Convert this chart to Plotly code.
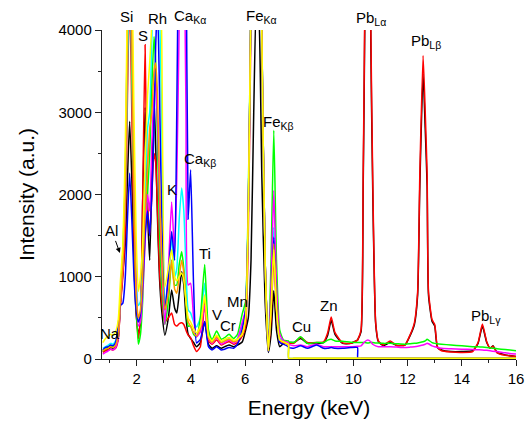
import plotly.graph_objects as go

# ---------------- data ----------------
# energy grid, keV (low region: all samples)
E_LOW = [0.75, 0.85, 0.95, 1.04, 1.12, 1.22, 1.32, 1.40, 1.49, 1.58,
         1.66, 1.74, 1.82, 1.90, 1.98, 2.06, 2.14, 2.22, 2.31, 2.40,
         2.48, 2.56, 2.64, 2.70, 2.77, 2.84, 2.92, 3.04, 3.17, 3.29,
         3.40, 3.48, 3.57, 3.66, 3.74, 3.82, 3.90, 3.99, 4.10, 4.21,
         4.35, 4.51, 4.65, 4.78, 4.95, 5.12, 5.25, 5.41, 5.58, 5.72,
         5.90, 6.02, 6.12, 6.22, 6.32, 6.42, 6.52, 6.62, 6.74, 6.86,
         6.96, 7.06, 7.16, 7.28, 7.42, 7.60]
# energy grid, keV (high region)
E_HIGH = [7.61, 7.80, 8.05, 8.30, 8.64, 8.90, 9.05, 9.18, 9.32, 9.60,
          9.90, 10.15, 10.16, 10.28, 10.36, 10.42, 10.53, 10.64, 10.71, 10.82,
          10.92, 11.10, 11.36, 11.60, 11.90, 12.10, 12.25, 12.37, 12.45, 12.57,
          12.65, 12.72, 12.77, 12.90, 13.00, 13.10, 13.25, 13.60, 14.00, 14.40,
          14.60, 14.76, 14.92, 15.05, 15.15, 15.30, 15.60, 16.00]

black_low = [90, 110, 120, 140, 130, 150, 260, 680, 1060, 1400,
             2200, 2890, 2200, 1200, 550, 320, 420, 1900, 3060, 1800,
             1200, 2200, 3170, 2600, 1700, 1000, 600, 290, 500, 840,
             620, 560, 800, 1060, 900, 500, 300, 250, 200, 150,
             200, 455, 180, 130, 160, 130, 150, 170, 150, 170,
             210, 350, 500, 1200, 3000, 4400, 4100, 2200, 700, 80,
             300, 830, 350, 150, 190, 190]
black_high = [200, 200, 250, 190, 190, 200, 290, 470, 300, 190,
              190, 230, 235, 330, 2100, 4100, 13000, 3900, 2100, 430,
              210, 165, 200, 165, 170, 290, 420, 780, 2100, 3475,
              2800, 2100, 780, 460, 400, 140, 110, 90, 90, 100,
              190, 400, 200, 130, 160, 80, 50, 30]

red_low = [80, 100, 110, 120, 110, 130, 240, 650, 1000, 1600,
           3200, 4500, 3000, 1500, 600, 250, 500, 1900, 3820, 1900,
           1500, 2000, 2500, 2400, 1800, 1100, 700, 450, 500, 560,
           420, 400, 430, 440, 420, 350, 290, 260, 160, 90,
           150, 680, 220, 180, 230, 170, 190, 210, 180, 200,
           280, 400, 1500, 4200, 9000, 12000, 9000, 3800, 1200, 100,
           500, 1250, 600, 220, 200, 200]
red_high = [195, 190, 265, 200, 200, 210, 320, 510, 320, 195,
            190, 230, 235, 350, 2240, 4300, 14000, 4100, 2240, 450,
            220, 170, 220, 165, 170, 300, 440, 820, 2240, 3690,
            3000, 2240, 820, 480, 420, 150, 100, 85, 80, 90,
            200, 425, 210, 130, 155, 75, 45, 30]

green_low = [100, 120, 140, 160, 150, 170, 300, 720, 1300, 2200,
             4200, 6000, 4000, 2000, 700, 180, 300, 700, 1500, 2000,
             2500, 3300, 3920, 3600, 2600, 1600, 900, 420, 700, 1200,
             900, 900, 1150, 1305, 1100, 700, 400, 400, 300, 270,
             500, 1150, 350, 230, 340, 240, 260, 300, 250, 300,
             555, 700, 2000, 4500, 9000, 12000, 9000, 3900, 1200, 110,
             1200, 2780, 1200, 350, 230, 220]
green_high = [210, 200, 270, 190, 200, 200, 230, 240, 220, 215,
              205, 200, 200, 200, 200, 200, 195, 200, 200, 195,
              195, 190, 190, 185, 180, 185, 190, 195, 200, 210,
              220, 240, 230, 200, 190, 185, 180, 170, 160, 150,
              148, 145, 140, 135, 130, 125, 115, 100]

blue_low = [110, 140, 150, 170, 160, 200, 420, 650, 680, 1000,
            1700, 2260, 1700, 1000, 600, 450, 550, 900, 1500, 1800,
            1500, 2000, 2800, 3800, 4300, 3300, 1800, 600, 1000, 1550,
            1200, 3000, 6000, 9000, 8000, 5500, 1700, 2300, 900, 195,
            240, 455, 150, 110, 150, 110, 120, 140, 130, 180,
            370, 600, 1800, 4500, 9000, 12000, 9000, 3900, 1200, 90,
            700, 1480, 650, 200, 180, 150]
blue_high = [140, 130, 160, 130, 170, 130, 130, 140, 130, 130,
             140, 140, 8, 8, 8, 8, 8, 8, 8, 8,
             8, 8, 8, 8, 8, 8, 8, 8, 8, 8,
             8, 8, 8, 8, 8, 8, 8, 8, 8, 8,
             8, 8, 8, 8, 8, 8, 8, 8]

cyan_low = [130, 150, 170, 190, 180, 220, 320, 750, 1230, 1900,
            3500, 5000, 3500, 2000, 1000, 650, 700, 1100, 2000, 2800,
            3000, 3900, 5000, 5500, 5000, 4300, 3000, 650, 1000, 1490,
            1000, 1100, 1700, 2080, 1800, 1100, 600, 560, 450, 390,
            500, 920, 300, 200, 280, 200, 220, 250, 210, 250,
            420, 600, 1800, 4500, 9000, 12000, 9000, 3900, 1200, 100,
            700, 1600, 700, 250, 220, 190]

magenta_low = [60, 80, 100, 120, 110, 140, 260, 700, 1130, 2000,
               4300, 6500, 4500, 2200, 900, 400, 450, 800, 1400, 2000,
               1800, 2600, 3200, 3370, 2900, 2000, 1200, 420, 1100, 1910,
               1300, 2200, 4100, 7000, 5500, 3000, 900, 920, 500, 270,
               330, 660, 250, 190, 260, 180, 200, 230, 190, 240,
               450, 600, 1800, 4500, 9000, 12000, 9000, 3900, 1200, 100,
               900, 2050, 900, 300, 220, 200]
magenta_high = [180, 160, 170, 150, 180, 150, 150, 150, 150, 150,
                150, 155, 155, 160, 190, 210, 230, 210, 180, 160,
                150, 150, 150, 145, 140, 145, 150, 155, 160, 170,
                180, 190, 185, 160, 150, 140, 130, 125, 120, 115,
                112, 110, 105, 100, 95, 90, 75, 60]

yellow_low = [200, 250, 280, 300, 290, 330, 480, 950, 1380, 2600,
              4500, 7000, 5000, 3000, 1500, 820, 1000, 1400, 2400, 3200,
              3600, 4100, 5500, 6000, 5500, 4800, 4000, 875, 1100, 1330,
              1000, 950, 1000, 1045, 950, 700, 500, 450, 370, 315,
              400, 780, 280, 220, 290, 220, 240, 260, 230, 240,
              300, 500, 1800, 4500, 9000, 12000, 9000, 3900, 1200, 100,
              600, 1330, 600, 230, 210, 180]

orange_low = [100, 120, 130, 150, 140, 170, 300, 720, 1150, 2000,
              4000, 6000, 4000, 2000, 800, 500, 600, 1000, 1800, 2300,
              2800, 3000, 3500, 3600, 3200, 2200, 1300, 600, 800, 1200,
              850, 800, 1000, 1200, 1050, 700, 450, 400, 320, 280,
              380, 740, 260, 200, 270, 200, 220, 240, 210, 230,
              320, 500, 1800, 4500, 9000, 12000, 9000, 3950, 1200, 100,
              650, 1400, 650, 240, 200, 170]

# samples that end at 7.6 keV sit on the baseline afterwards
zero_high = [8] * len(E_HIGH)

X_TICKS = [2, 4, 6, 8, 10, 12, 14, 16]
Y_TICKS = [0, 1000, 2000, 3000, 4000]
Y_MAX = 4000

# ---------------- figure ----------------
E_ALL = E_LOW + E_HIGH
series = [
    ("black", black_low + black_high, "#000000"),
    ("red", red_low + red_high, "#ff0000"),
    ("cyan", cyan_low + zero_high, "#00ffff"),
    ("green", green_low + green_high, "#00ff00"),
    ("magenta", magenta_low + magenta_high, "#ff00ff"),
    ("blue", blue_low + blue_high, "#0000ff"),
    ("orange", orange_low + zero_high, "#ff9900"),
    ("yellow", yellow_low + zero_high, "#ffff00"),
]

fig = go.Figure()
for name, ys, col in series:
    fig.add_trace(go.Scatter(x=E_ALL, y=ys, mode="lines", name=name,
                             line=dict(color=col, width=1.5, shape="spline", smoothing=0.5),
                             showlegend=False))

FONT = "Liberation Sans, Arial, sans-serif"
labels = [
    ("Si", 1.64, 4160), ("S", 2.23, 3930), ("Rh", 2.75, 4135),
    ("Ca<sub>Kα</sub>", 3.97, 4170), ("Fe<sub>Kα</sub>", 6.62, 4160),
    ("Pb<sub>Lα</sub>", 10.63, 4145), ("Pb<sub>Lβ</sub>", 12.66, 3860),
    ("Fe<sub>Kβ</sub>", 7.25, 2870), ("Ca<sub>Kβ</sub>", 4.34, 2430),
    ("K", 3.29, 2055), ("Na", 1.01, 310), ("Ti", 4.52, 1285),
    ("V", 4.95, 535), ("Cr", 5.38, 410), ("Mn", 5.71, 700),
    ("Cu", 8.09, 390), ("Zn", 9.11, 655), ("Pb<sub>Lγ</sub>", 14.9, 515),
]
for txt, x, y in labels:
    # labels above the axis range are placed in paper units (same scale)
    fig.add_annotation(x=x, y=y / Y_MAX, xref="x", yref="paper", text=txt,
                       xanchor="center", yanchor="middle",
                       showarrow=False, font=dict(family=FONT, size=15, color="black"))
fig.add_annotation(x=1.38, y=1290, xref="x", yref="y", text="Al", showarrow=True,
                   ax=-8, ay=-22, arrowhead=2, arrowsize=1, arrowwidth=1,
                   arrowcolor="black", font=dict(family=FONT, size=15, color="black"))

axis_common = dict(showgrid=False, zeroline=False, showline=True, linecolor="#222",
                   linewidth=1.2, ticks="outside", ticklen=6, tickwidth=1,
                   tickcolor="#222", tickfont=dict(family=FONT, size=15, color="black"),
                   mirror=False)
fig.update_xaxes(range=[0.72, 16], tickvals=X_TICKS,
                 minor=dict(ticks="outside", ticklen=3, dtick=1, tick0=0, tickcolor="#222"),
                 title=dict(text="Energy (keV)", font=dict(family=FONT, size=21, color="black"),
                            standoff=14),
                 **axis_common)
fig.update_yaxes(range=[0, Y_MAX], tickvals=Y_TICKS,
                 minor=dict(ticks="outside", ticklen=3, dtick=500, tick0=0, tickcolor="#222"),
                 title=dict(text="Intensity (a.u.)", font=dict(family=FONT, size=21, color="black"),
                            standoff=18),
                 **axis_common)
fig.update_layout(width=527, height=423, margin=dict(l=102, r=11, t=30, b=64, autoexpand=False),
                  paper_bgcolor="white", plot_bgcolor="white")
# remove the default page margin so the figure fills the window exactly
fig.write_html("out.html", config={"displayModeBar": False, "staticPlot": True},
               post_script="document.body.style.margin='0';document.body.style.overflow='hidden';")
